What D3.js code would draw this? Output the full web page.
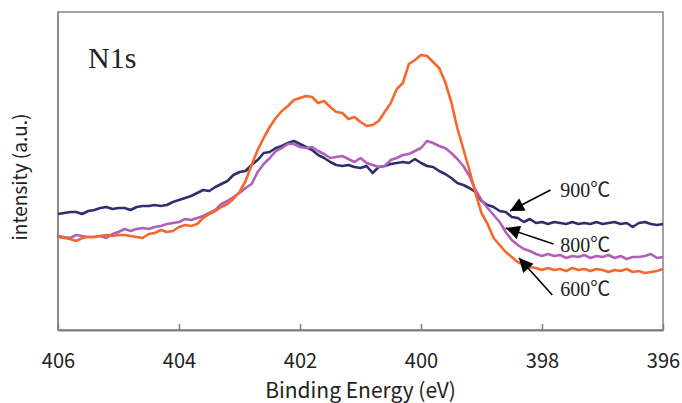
<!DOCTYPE html>
<meta charset="utf-8">
<script src="https://d3js.org/d3.v7.min.js"></script>
<style>
  body { margin: 0; background: #fff; }
  .tick text { font-family: "Noto Sans CJK JP", "Liberation Sans", sans-serif; font-size: 20px; fill: #222; }
  .lbl { font-family: "Noto Sans CJK JP", "Liberation Sans", sans-serif; fill: #222; }
  .serif { font-family: "Liberation Serif", "Noto Sans CJK JP", serif; fill: #222; }
</style>
<div id="chart"></div>
<script>
// binding energy grid (eV)
var energy = [
  406.0,405.9,405.8,405.7,405.6,405.5,405.4,405.3,405.2,405.1,
  405.0,404.9,404.8,404.7,404.6,404.5,404.4,404.3,404.2,404.1,
  404.0,403.9,403.8,403.7,403.6,403.5,403.4,403.3,403.2,403.1,
  403.0,402.9,402.8,402.7,402.6,402.5,402.4,402.3,402.2,402.1,
  402.0,401.9,401.8,401.7,401.6,401.5,401.4,401.3,401.2,401.1,
  401.0,400.9,400.8,400.7,400.6,400.5,400.4,400.3,400.2,400.1,
  400.0,399.9,399.8,399.7,399.6,399.5,399.4,399.3,399.2,399.1,
  399.0,398.9,398.8,398.7,398.6,398.5,398.4,398.3,398.2,398.1,
  398.0,397.9,397.8,397.7,397.6,397.5,397.4,397.3,397.2,397.1,
  397.0,396.9,396.8,396.7,396.6,396.5,396.4,396.3,396.2,396.1,
  396.0];

// intensity (a.u.)
var t900 = [
  116,117,118,118,116,119,120,122,123,121,122,
  122,120,123,124,124,125,124,125,128,130,
  132,134,137,140,139,143,146,149,155,158,
  159,165,170,177,178,182,184,187,189,186,
  183,180,175,172,168,165,164,165,163,162,
  164,157,163,164,166,167,168,167,171,167,
  164,163,159,156,152,147,145,142,138,129,
  125,123,119,118,113,112,108,111,107,108,
  106,108,107,106,108,106,107,106,108,106,
  107,108,106,107,103,107,108,106,105,106];

var t800 = [
  94,93,92,95,94,93,93,94,92,96,98,
  101,99,101,102,101,103,104,106,107,108,
  111,110,112,114,117,120,126,129,133,137,
  142,146,158,166,172,179,182,186,186,183,
  182,183,179,176,172,173,174,171,168,172,
  167,165,163,164,170,172,175,176,179,182,
  189,187,184,182,177,171,164,154,140,130,
  122,115,108,98,90,85,81,79,76,74,
  76,74,75,72,74,73,75,72,74,73,
  75,72,74,71,73,73,74,76,72,73];

var t600 = [
  93,92,91,89,92,93,93,94,95,94,95,
  95,94,93,92,96,97,100,98,99,103,
  105,104,106,112,116,119,123,126,131,138,
  149,165,180,192,203,212,219,224,230,232,
  234,233,227,229,223,218,217,211,213,208,
  204,205,209,218,227,241,247,266,270,275,
  274,268,262,248,228,202,181,160,137,117,
  106,92,85,78,73,68,65,63,62,60,
  62,60,61,59,62,60,61,59,61,60,
  58,60,59,61,58,59,57,58,59,61];

var seriesNames = ["900℃", "800℃", "600℃"];
var seriesColors = ["#2d306c", "#b25fba", "#f5682b"];
var xTicks = [406, 404, 402, 400, 398, 396];

// arrow annotations: tip and tail in data units
var notes = [
  {label: "900℃", tip: [398.53, 119], tail: [397.86, 140], text: [397.70, 133]},
  {label: "800℃", tip: [398.60, 102], tail: [397.81, 86], text: [397.70, 78]},
  {label: "600℃", tip: [398.38, 72], tail: [397.83, 35], text: [397.70, 34]}
];

var margin = {top: 12, right: 19, bottom: 73, left: 58},
    width = 682 - margin.left - margin.right,
    height = 403 - margin.top - margin.bottom;

var svg = d3.select("#chart")
  .append("svg")
  .attr("width", width + margin.left + margin.right)
  .attr("height", height + margin.top + margin.bottom)
  .append("g")
  .attr("transform", "translate(" + margin.left + "," + margin.top + ")");

var x = d3.scaleLinear().domain([406, 396]).range([0, width]);
var y = d3.scaleLinear().domain([0, 318]).range([height, 0]);

// frame
svg.append("rect")
  .attr("x", 0).attr("y", 0)
  .attr("width", width).attr("height", height)
  .attr("fill", "none")
  .attr("stroke", "#a3a3a3")
  .attr("stroke-width", 2);

// left axis line
svg.append("line")
  .attr("x1", 0).attr("x2", 0)
  .attr("y1", 0).attr("y2", height)
  .attr("stroke", "#8c8c8c")
  .attr("stroke-width", 2);

// bottom axis, ticks pointing inward
var xAxis = svg.append("g")
  .attr("transform", "translate(0," + height + ")")
  .call(d3.axisBottom(x).tickValues(xTicks).tickFormat(d3.format("d"))
    .tickSizeInner(-6).tickSizeOuter(0).tickPadding(24));
xAxis.select(".domain").attr("stroke", "#808080").attr("stroke-width", 2);
xAxis.selectAll(".tick line").attr("stroke", "#808080").attr("stroke-width", 1.5);

// curves
var line = d3.line()
  .x(function(d) { return x(d.e); })
  .y(function(d) { return y(d.v); });

[t900, t800, t600].forEach(function(vals, i) {
  var pts = energy.map(function(e, j) { return {e: e, v: vals[j]}; });
  svg.append("path")
    .datum(pts)
    .attr("fill", "none")
    .attr("stroke", seriesColors[i])
    .attr("stroke-width", 2.6)
    .attr("stroke-linejoin", "round")
    .attr("d", line);
});

// arrows
svg.append("defs").append("marker")
  .attr("id", "head")
  .attr("viewBox", "0 0 10 10")
  .attr("refX", 10).attr("refY", 5)
  .attr("markerWidth", 17).attr("markerHeight", 14)
  .attr("markerUnits", "userSpaceOnUse")
  .attr("orient", "auto")
  .append("path")
  .attr("d", "M0,0L10,5L0,10Z")
  .attr("fill", "#000");

notes.forEach(function(n) {
  svg.append("line")
    .attr("x1", x(n.tail[0])).attr("y1", y(n.tail[1]))
    .attr("x2", x(n.tip[0])).attr("y2", y(n.tip[1]))
    .attr("stroke", "#000")
    .attr("stroke-width", 1.6)
    .attr("marker-end", "url(#head)");
  svg.append("text")
    .attr("class", "serif")
    .attr("x", x(n.text[0]))
    .attr("y", y(n.text[1]))
    .style("font-size", "20px")
    .text(n.label);
});

// N1s
svg.append("text")
  .attr("class", "serif")
  .attr("x", 30).attr("y", 56)
  .style("font-size", "30px")
  .text("N1s");

// axis titles
svg.append("text")
  .attr("class", "lbl")
  .attr("text-anchor", "middle")
  .attr("x", width / 2)
  .attr("y", height + 68)
  .style("font-size", "21px")
  .text("Binding Energy (eV)");

svg.append("text")
  .attr("class", "lbl")
  .attr("text-anchor", "middle")
  .attr("transform", "rotate(-90)")
  .attr("x", -(height / 2) - 6)
  .attr("y", -31)
  .style("font-size", "19px")
  .text("intensity (a.u.)");
</script>
